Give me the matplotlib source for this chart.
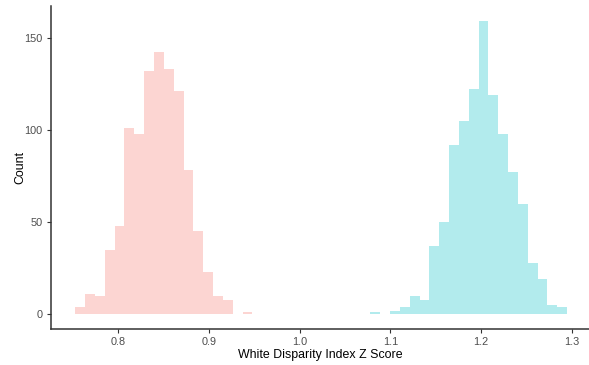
import numpy as np
import matplotlib
matplotlib.use("Agg")
import matplotlib.pyplot as plt

# histogram bins shared by both groups
bin_start = 0.7531
bin_width = 0.01083
n_bins = 50

# counts per bin, group 1 (low z scores)
counts_a = [4, 11, 10, 35, 48, 101, 98, 132, 142, 133, 121, 78, 45, 23, 10, 8,
            0, 1] + [0] * 32
# counts per bin, group 2 (high z scores)
counts_b = [0] * 30 + [1, 0, 2, 4, 10, 8, 37, 50, 92, 105, 122, 159, 119, 98,
                       77, 60, 28, 19, 5, 4]

x_ticks = [0.8, 0.9, 1.0, 1.1, 1.2, 1.3]
y_ticks = [0, 50, 100, 150]

plt.rcParams['font.family'] = ['Liberation Sans', 'DejaVu Sans']

edges = bin_start + bin_width * np.arange(n_bins + 1)

fig = plt.figure(figsize=(5.89, 3.65), dpi=100)
ax = fig.add_axes([0.0861, 0.0986, 0.9139, 0.884])

ax.bar(edges[:-1], counts_a, width=bin_width, align='edge',
       color='#F8766D', alpha=0.3, linewidth=0)
ax.bar(edges[:-1], counts_b, width=bin_width, align='edge',
       color='#00BFC4', alpha=0.3, linewidth=0)

ymax = max(max(counts_a), max(counts_b))
xr = edges[-1] - edges[0]
ax.set_xlim(edges[0] - 0.05 * xr, 1.3187)
ax.set_ylim(-0.05 * ymax, 1.05 * ymax)

ax.set_xticks(x_ticks)
ax.set_xticklabels([f"{t:.1f}" for t in x_ticks])
ax.set_yticks(y_ticks)

for side in ['top', 'right']:
    ax.spines[side].set_visible(False)
for side in ['left', 'bottom']:
    ax.spines[side].set_color('#333333')
    ax.spines[side].set_linewidth(1.1)

ax.tick_params(axis='both', colors='#333333', labelcolor='#4D4D4D',
               labelsize=7.8, length=3, width=0.8, pad=3)

ax.set_xlabel('White Disparity Index Z Score', fontsize=8.9, color='black',
              labelpad=1)
ax.set_ylabel('Count', fontsize=8.9, color='black')
ax.yaxis.set_label_coords(-0.046, 0.5)

fig.savefig('out.png', dpi=100)
